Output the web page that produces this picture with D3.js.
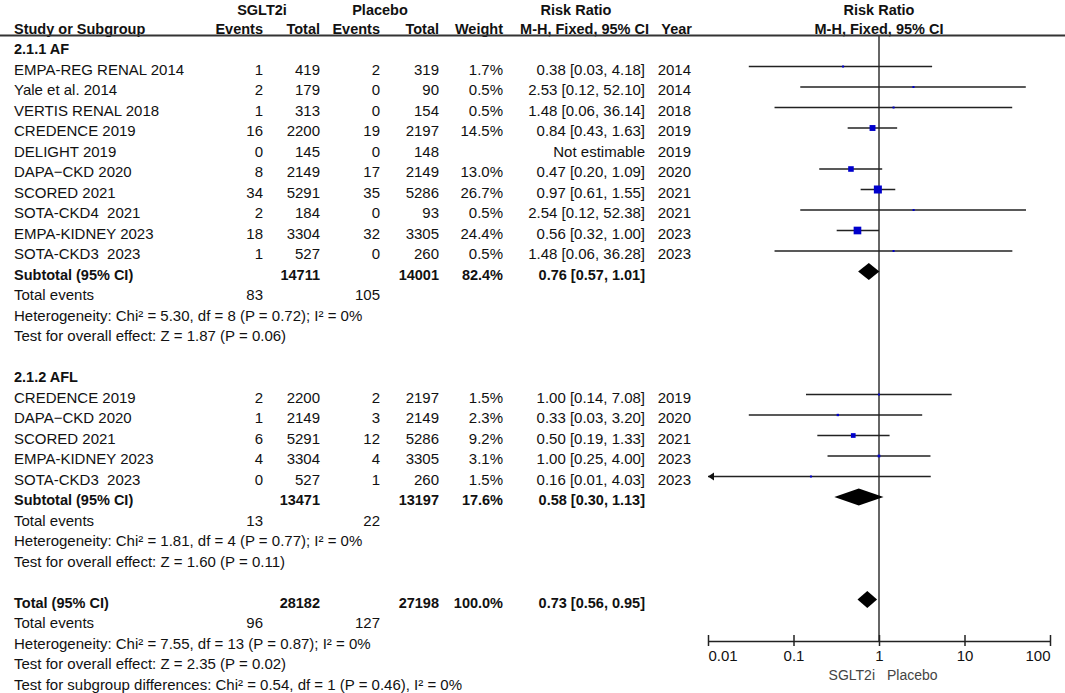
<!DOCTYPE html>
<html>
<head>
<meta charset="utf-8">
<script src="https://cdn.jsdelivr.net/npm/d3@7"></script>
<style>
  body { margin: 0; background: #fff; }
  svg text { font-family: "Liberation Sans", Arial, sans-serif; white-space: pre; fill: #111; }
</style>
</head>
<body>
<div id="viz"></div>
<script>
const width = 1065;
const height = 693;

// study rows: name, SGLT2i events/total, placebo events/total, weight %, RR [lo, hi], year
const afStudies = [
  { study: 'EMPA-REG RENAL 2014', e1: 1, n1: 419, e2: 2, n2: 319, weight: 1.7, rr: 0.38, lo: 0.03, hi: 4.18, year: 2014 },
  { study: 'Yale et al. 2014', e1: 2, n1: 179, e2: 0, n2: 90, weight: 0.5, rr: 2.53, lo: 0.12, hi: 52.10, year: 2014 },
  { study: 'VERTIS RENAL 2018', e1: 1, n1: 313, e2: 0, n2: 154, weight: 0.5, rr: 1.48, lo: 0.06, hi: 36.14, year: 2018 },
  { study: 'CREDENCE 2019', e1: 16, n1: 2200, e2: 19, n2: 2197, weight: 14.5, rr: 0.84, lo: 0.43, hi: 1.63, year: 2019 },
  { study: 'DELIGHT 2019', e1: 0, n1: 145, e2: 0, n2: 148, weight: null, rr: null, lo: null, hi: null, year: 2019 },
  { study: 'DAPA\u2212CKD 2020', e1: 8, n1: 2149, e2: 17, n2: 2149, weight: 13.0, rr: 0.47, lo: 0.20, hi: 1.09, year: 2020 },
  { study: 'SCORED 2021', e1: 34, n1: 5291, e2: 35, n2: 5286, weight: 26.7, rr: 0.97, lo: 0.61, hi: 1.55, year: 2021 },
  { study: 'SOTA-CKD4  2021', e1: 2, n1: 184, e2: 0, n2: 93, weight: 0.5, rr: 2.54, lo: 0.12, hi: 52.38, year: 2021 },
  { study: 'EMPA-KIDNEY 2023', e1: 18, n1: 3304, e2: 32, n2: 3305, weight: 24.4, rr: 0.56, lo: 0.32, hi: 1.00, year: 2023 },
  { study: 'SOTA-CKD3  2023', e1: 1, n1: 527, e2: 0, n2: 260, weight: 0.5, rr: 1.48, lo: 0.06, hi: 36.28, year: 2023 }
];

const aflStudies = [
  { study: 'CREDENCE 2019', e1: 2, n1: 2200, e2: 2, n2: 2197, weight: 1.5, rr: 1.00, lo: 0.14, hi: 7.08, year: 2019 },
  { study: 'DAPA\u2212CKD 2020', e1: 1, n1: 2149, e2: 3, n2: 2149, weight: 2.3, rr: 0.33, lo: 0.03, hi: 3.20, year: 2020 },
  { study: 'SCORED 2021', e1: 6, n1: 5291, e2: 12, n2: 5286, weight: 9.2, rr: 0.50, lo: 0.19, hi: 1.33, year: 2021 },
  { study: 'EMPA-KIDNEY 2023', e1: 4, n1: 3304, e2: 4, n2: 3305, weight: 3.1, rr: 1.00, lo: 0.25, hi: 4.00, year: 2023 },
  { study: 'SOTA-CKD3  2023', e1: 0, n1: 527, e2: 1, n2: 260, weight: 1.5, rr: 0.16, lo: 0.01, hi: 4.03, year: 2023 }
];

// pooled results: AF subtotal, AFL subtotal, overall
const summaries = [
  { label: 'Subtotal (95% CI)', n1: 14711, n2: 14001, weight: 82.4, rr: 0.76, lo: 0.57, hi: 1.01, ev1: 83, ev2: 105,
    het: 'Heterogeneity: Chi\u00b2 = 5.30, df = 8 (P = 0.72); I\u00b2 = 0%', test: 'Test for overall effect: Z = 1.87 (P = 0.06)' },
  { label: 'Subtotal (95% CI)', n1: 13471, n2: 13197, weight: 17.6, rr: 0.58, lo: 0.30, hi: 1.13, ev1: 13, ev2: 22,
    het: 'Heterogeneity: Chi\u00b2 = 1.81, df = 4 (P = 0.77); I\u00b2 = 0%', test: 'Test for overall effect: Z = 1.60 (P = 0.11)' },
  { label: 'Total (95% CI)', n1: 28182, n2: 27198, weight: 100.0, rr: 0.73, lo: 0.56, hi: 0.95, ev1: 96, ev2: 127,
    het: 'Heterogeneity: Chi\u00b2 = 7.55, df = 13 (P = 0.87); I\u00b2 = 0%', test: 'Test for overall effect: Z = 2.35 (P = 0.02)' }
];

const subgroupTest = 'Test for subgroup differences: Chi\u00b2 = 0.54, df = 1 (P = 0.46), I\u00b2 = 0%';
const subgroupLabels = ['2.1.1 AF', '2.1.2 AFL'];
const tickValues = [0.01, 0.1, 1, 10, 100];
const tickLabels = ['0.01', '0.1', '1', '10', '100'];

// build the list of table rows in order
const rows = [];
function addGroup(label, studies, sum) {
  rows.push({ type: 'group', label });
  studies.forEach(s => rows.push({ type: 'study', ...s }));
  rows.push({ type: 'summary', ...sum });
  rows.push({ type: 'events', ev1: sum.ev1, ev2: sum.ev2 });
  rows.push({ type: 'note', label: sum.het });
  rows.push({ type: 'note', label: sum.test });
  rows.push({ type: 'blank' });
}
addGroup(subgroupLabels[0], afStudies, summaries[0]);
addGroup(subgroupLabels[1], aflStudies, summaries[1]);
rows.push({ type: 'summary', ...summaries[2] });
rows.push({ type: 'events', ev1: summaries[2].ev1, ev2: summaries[2].ev2 });
rows.push({ type: 'note', label: summaries[2].het });
rows.push({ type: 'note', label: summaries[2].test });
rows.push({ type: 'note', label: subgroupTest });
rows.forEach((r, i) => r.i = i);

const y = d3.scaleLinear().domain([0, rows.length - 1]).range([49, 684.5]);
const x = d3.scaleLog().domain([0.01, 100]).range([708, 1050]);
const markY = i => y(i) - 3;
const baseY = i => y(i) + 5;

const cols = { ev1: 263, n1: 320, ev2: 380, n2: 439, weight: 503, rr: 645, year: 691 };
const fmtRR = d => `${d.rr.toFixed(2)} [${d.lo.toFixed(2)}, ${d.hi.toFixed(2)}]`;

const svg = d3.select('#viz').append('svg')
  .attr('width', width)
  .attr('height', height);

// header
const header = svg.append('g').style('font-weight', 700).style('font-size', '14.5px');
const headTop = [
  { t: 'SGLT2i', x: 262 }, { t: 'Placebo', x: 380 }, { t: 'Risk Ratio', x: 576 }, { t: 'Risk Ratio', x: 879 }
];
header.selectAll('.h1').data(headTop).enter().append('text')
  .attr('x', d => d.x).attr('y', 15)
  .style('text-anchor', 'middle')
  .text(d => d.t);

const headBottom = [
  { t: 'Study or Subgroup', x: 14, a: 'start' },
  { t: 'Events', x: cols.ev1, a: 'end' },
  { t: 'Total', x: cols.n1, a: 'end' },
  { t: 'Events', x: cols.ev2, a: 'end' },
  { t: 'Total', x: cols.n2, a: 'end' },
  { t: 'Weight', x: cols.weight, a: 'end' },
  { t: 'M-H, Fixed, 95% CI', x: cols.rr + 4, a: 'end' },
  { t: 'Year', x: cols.year + 1, a: 'end' },
  { t: 'M-H, Fixed, 95% CI', x: 879, a: 'middle' }
];
header.selectAll('.h2').data(headBottom).enter().append('text')
  .attr('x', d => d.x).attr('y', 34)
  .style('text-anchor', d => d.a)
  .text(d => d.t);

svg.append('line')
  .attr('x1', 0).attr('x2', width)
  .attr('y1', 35.5).attr('y2', 35.5)
  .attr('stroke', '#333').attr('stroke-width', 2);

// table body
const body = svg.append('g').style('font-size', '15px');
rows.forEach(r => {
  const by = baseY(r.i);
  const cell = (txt, cx, anchor = 'end', bold = false) => body.append('text')
    .attr('x', cx).attr('y', by)
    .style('text-anchor', anchor)
    .style('font-weight', bold ? 700 : 400)
    .style('font-size', bold ? '14.5px' : null)
    .text(txt);

  if (r.type === 'group') {
    cell(r.label, 14, 'start', true);
  } else if (r.type === 'study') {
    cell(r.study, 14, 'start');
    cell(r.e1, cols.ev1);
    cell(r.n1, cols.n1);
    cell(r.e2, cols.ev2);
    cell(r.n2, cols.n2);
    if (r.weight != null) cell(r.weight.toFixed(1) + '%', cols.weight);
    cell(r.rr != null ? fmtRR(r) : 'Not estimable', cols.rr);
    cell(r.year, cols.year);
  } else if (r.type === 'summary') {
    cell(r.label, 14, 'start', true);
    cell(r.n1, cols.n1, 'end', true);
    cell(r.n2, cols.n2, 'end', true);
    cell(r.weight.toFixed(1) + '%', cols.weight, 'end', true);
    cell(fmtRR(r), cols.rr, 'end', true);
  } else if (r.type === 'events') {
    cell('Total events', 14, 'start');
    cell(r.ev1, cols.ev1);
    cell(r.ev2, cols.ev2);
  } else if (r.type === 'note') {
    cell(r.label, 14, 'start');
  }
});

// forest plot
const plot = svg.append('g');
const axisY = 641;

plot.append('line')
  .attr('x1', x(1)).attr('x2', x(1))
  .attr('y1', 36).attr('y2', axisY)
  .attr('stroke', '#333').attr('stroke-width', 1.5);

const studyRows = rows.filter(r => r.type === 'study' && r.rr != null);
const [dMin, dMax] = x.domain();

plot.selectAll('.ci').data(studyRows).enter().append('line')
  .attr('class', 'ci')
  .attr('x1', d => x(Math.max(d.lo, dMin)))
  .attr('x2', d => x(Math.min(d.hi, dMax)))
  .attr('y1', d => markY(d.i)).attr('y2', d => markY(d.i))
  .attr('stroke', '#222').attr('stroke-width', 1.3);

// arrow heads where the interval runs off the scale
plot.selectAll('.arrow').data(studyRows.filter(d => d.lo <= dMin)).enter().append('path')
  .attr('class', 'arrow')
  .attr('d', d => {
    const ax = x(dMin), ay = markY(d.i);
    return `M${ax},${ay}L${ax + 6},${ay - 4}L${ax + 6},${ay + 4}Z`;
  })
  .attr('fill', '#111');

const boxSize = w => Math.max(2, 1.55 * Math.sqrt(w));
plot.selectAll('.box').data(studyRows).enter().append('rect')
  .attr('class', 'box')
  .attr('x', d => x(d.rr) - boxSize(d.weight) / 2)
  .attr('y', d => markY(d.i) - boxSize(d.weight) / 2)
  .attr('width', d => boxSize(d.weight))
  .attr('height', d => boxSize(d.weight))
  .attr('fill', '#0000cc');

const sumRows = rows.filter(r => r.type === 'summary');
plot.selectAll('.diamond').data(sumRows).enter().append('path')
  .attr('class', 'diamond')
  .attr('d', d => {
    const cy = markY(d.i), h = 8.5;
    return `M${x(d.lo)},${cy}L${x(d.rr)},${cy - h}L${x(d.hi)},${cy}L${x(d.rr)},${cy + h}Z`;
  })
  .attr('fill', '#000');

// axis
const axis = plot.append('g')
  .attr('transform', `translate(0, ${axisY})`)
  .call(d3.axisBottom(x).tickValues(tickValues).tickFormat((d, i) => tickLabels[i]).tickSizeOuter(0));

axis.select('.domain').attr('stroke', '#222').attr('stroke-width', 1.5);
axis.selectAll('.tick line').attr('y1', -6).attr('y2', 5).attr('stroke', '#222').attr('stroke-width', 1.5);
axis.selectAll('.tick text')
  .attr('y', 20).attr('dy', 0)
  .style('font-family', '"Liberation Sans", Arial, sans-serif')
  .style('font-size', '15px')
  .style('fill', '#111')
  .style('text-anchor', (d, i) => i === 0 ? 'start' : i === tickValues.length - 1 ? 'end' : 'middle');

plot.append('text')
  .attr('x', x(1) - 4).attr('y', 680)
  .style('text-anchor', 'end').style('font-size', '14px').style('fill', '#444')
  .text('SGLT2i');
plot.append('text')
  .attr('x', x(1) + 8).attr('y', 680)
  .style('text-anchor', 'start').style('font-size', '14px').style('fill', '#444')
  .text('Placebo');
</script>
</body>
</html>
